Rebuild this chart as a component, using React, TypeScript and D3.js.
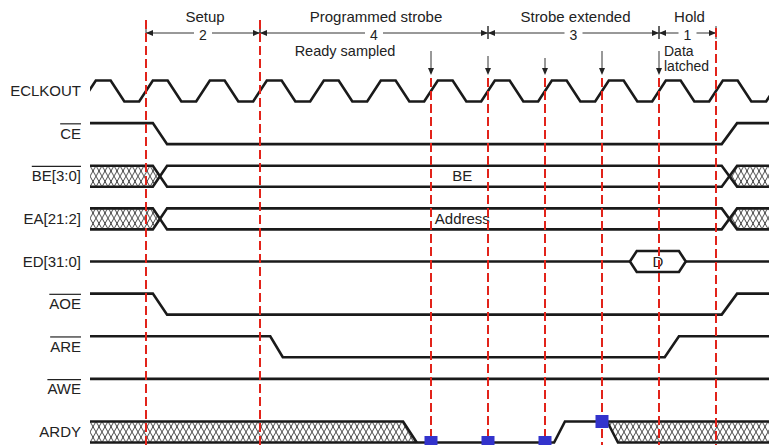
import React, { useRef, useEffect } from 'react';
import * as d3 from 'd3';

// signal rows, top to bottom
const signalNames = ["ECLKOUT", "CE", "BE[3:0]", "EA[21:2]", "ED[31:0]", "AOE", "ARE", "AWE", "ARDY"];
const activeLow = [false, true, true, false, false, true, true, true, false];

// clock cycles (rising edge at each index)
const clockCycles = [-1, 0, 1, 2, 3, 4, 5, 6, 7, 8, 9, 10, 11];

// phases of the access
const phaseNames = ["Setup", "Programmed strobe", "Strobe extended", "Hold"];
const phaseCounts = [2, 4, 3, 1];
const phaseStarts = [0, 2, 6, 9];

// red dashed reference edges
const markerCycles = [0, 2, 5, 6, 7, 8, 9, 10];
// edges where a down arrow shows sampling
const sampleCycles = [5, 6, 7, 8, 9];

// waveforms, in cycles: [cycle, level] with 1 = high, 0 = low
const ceWave = [[-1.2, 1], [0.12, 1], [0.37, 0], [10.1, 0], [10.37, 1], [11.5, 1]];
const aoeWave = [[-1.2, 1], [0.12, 1], [0.37, 0], [10.1, 0], [10.37, 1], [11.5, 1]];
const areWave = [[-1.2, 1], [2.18, 1], [2.4, 0], [9.1, 0], [9.35, 1], [11.5, 1]];
const aweWave = [[-1.2, 1], [11.5, 1]];
// bus valid window: start crossing, end crossing
const busEdges = [0.12, 0.37, 10.1, 10.37];
const busTexts = ["BE", "Address"];
const busTextCycle = 5.55;
// ED data window
const dataEdges = [8.49, 8.61, 9.35, 9.47];
const dataText = "D";
// ARDY: leaves unknown, low, rises, high, back to unknown
const ardyEdges = [4.51, 4.75, 7.16, 7.35, 8.09, 8.28];
// ARDY sample points and level seen
const readyCycles = [5, 6, 7, 8];
const readyLevels = [0, 0, 0, 1];

const W = 769, H = 445;
const FONT = "'Liberation Sans', Arial, sans-serif";

const App: React.FC = () => {
  const svgRef = useRef<SVGSVGElement>(null);

  useEffect(() => {
    if (!svgRef.current) return;
    const svg = d3.select(svgRef.current);
    svg.selectAll("*").remove();

    const x = d3.scaleLinear().domain([0, 10]).range([146, 716]);
    const row = d3.scaleLinear().domain([0, 8]).range([91, 432]);
    const half = 10.5;
    const x0 = 90, xEnd = W;
    const lvl = (r: number, l: number) => row(r) + (l === 1 ? -half : l === 0 ? half : 0);
    const ink = "#1a1a1a";
    const line = d3.line<[number, number]>();

    const defs = svg.append("defs");
    const pat = defs.append("pattern").attr("id", "hatch")
      .attr("patternUnits", "userSpaceOnUse")
      .attr("width", 6).attr("height", 10.5).attr("y", row(2) - half);
    pat.append("path").attr("d", "M0,0L6,10.5M6,0L0,10.5")
      .attr("stroke", ink).attr("stroke-width", 0.8).attr("fill", "none");
    defs.append("clipPath").attr("id", "clk")
      .append("rect").attr("x", x0).attr("y", 0).attr("width", xEnd - x0).attr("height", H);

    const sig = svg.append("g");
    const stroke = (p: any) => p.attr("fill", "none").attr("stroke", ink)
      .attr("stroke-width", 2.6).attr("stroke-linejoin", "miter");

    // labels
    signalNames.forEach((name, i) => {
      const t = svg.append("text").attr("x", 81).attr("y", row(i) + 5)
        .attr("text-anchor", "end").attr("font-family", FONT).attr("font-size", 15)
        .attr("fill", "#222").text(name);
      if (activeLow[i]) {
        const bb = (t.node() as SVGTextElement).getBBox();
        svg.append("line").attr("x1", bb.x).attr("x2", bb.x + bb.width)
          .attr("y1", row(i) - 9.8).attr("y2", row(i) - 9.8)
          .attr("stroke", "#222").attr("stroke-width", 1.2);
      }
    });

    // clock
    const clkPts: [number, number][] = [];
    clockCycles.forEach(k => {
      clkPts.push([x(k - 0.12), lvl(0, 0)], [x(k + 0.12), lvl(0, 1)],
        [x(k + 0.38), lvl(0, 1)], [x(k + 0.62), lvl(0, 0)]);
    });
    sig.append("path").attr("d", line(clkPts)).attr("clip-path", "url(#clk)").call(stroke);

    // simple level signals
    const waves: [number, number[][]][] = [[1, ceWave], [5, aoeWave], [6, areWave], [7, aweWave]];
    const clipG = sig.append("g").attr("clip-path", "url(#clk)");
    waves.forEach(([r, w]) => {
      clipG.append("path").attr("d", line(w.map(p => [x(p[0]), lvl(r, p[1])] as [number, number]))).call(stroke);
    });

    // buses
    [2, 3].forEach((r, i) => {
      const top = lvl(r, 1), bot = lvl(r, 0), c = row(r);
      const [a1, a2, b1, b2] = busEdges.map(x);
      const am = (a1 + a2) / 2, bm = (b1 + b2) / 2;
      sig.append("path").attr("d", line([[x0, top], [a1, top], [am, c], [a1, bot], [x0, bot]]) + "Z")
        .attr("fill", "url(#hatch)");
      sig.append("path").attr("d", line([[bm, c], [b2, top], [xEnd, top], [xEnd, bot], [b2, bot]]) + "Z")
        .attr("fill", "url(#hatch)");
      sig.append("path").attr("d", line([[x0, top], [a1, top], [a2, bot], [b1, bot], [b2, top], [xEnd, top]])).call(stroke);
      sig.append("path").attr("d", line([[x0, bot], [a1, bot], [a2, top], [b1, top], [b2, bot], [xEnd, bot]])).call(stroke);
      sig.append("text").attr("x", x(busTextCycle)).attr("y", c + 5).attr("text-anchor", "middle")
        .attr("font-family", FONT).attr("font-size", 15).attr("fill", "#222").text(busTexts[i]);
    });

    // data bus ED
    {
      const r = 4, c = row(r), top = lvl(r, 1), bot = lvl(r, 0);
      const [h0, h1, h2, h3] = dataEdges.map(x);
      sig.append("path").attr("d", line([[x0, c], [h0, c]])).call(stroke);
      sig.append("path").attr("d", line([[h0, c], [h1, top], [h2, top], [h3, c], [h2, bot], [h1, bot]]) + "Z")
        .call(stroke).attr("fill", "#fff");
      sig.append("path").attr("d", line([[h3, c], [xEnd, c]])).call(stroke);
      sig.append("text").attr("x", (h1 + h2) / 2).attr("y", c + 5.5).attr("text-anchor", "middle")
        .attr("font-family", FONT).attr("font-size", 15).attr("fill", "#222").text(dataText);
    }

    // ARDY
    {
      const r = 8, top = lvl(r, 1), bot = lvl(r, 0);
      const [e0, e1, e2, e3, e4, e5] = ardyEdges.map(x);
      const patA = defs.append("pattern").attr("id", "hatch2")
        .attr("patternUnits", "userSpaceOnUse")
        .attr("width", 6).attr("height", 10.5).attr("y", top);
      patA.append("path").attr("d", "M0,0L6,10.5M6,0L0,10.5")
        .attr("stroke", ink).attr("stroke-width", 0.8).attr("fill", "none");
      sig.append("path").attr("d", line([[x0, top], [e0, top], [e1, bot], [x0, bot]]) + "Z").attr("fill", "url(#hatch2)");
      sig.append("path").attr("d", line([[e4, top], [xEnd, top], [xEnd, bot], [e5, bot]]) + "Z").attr("fill", "url(#hatch2)");
      sig.append("path").attr("d", line([[x0, top], [e0, top], [e1, bot]])).call(stroke);
      sig.append("path").attr("d", line([[x0, bot], [e2, bot], [e3, top], [xEnd, top]])).call(stroke);
      sig.append("path").attr("d", line([[e4, top], [e5, bot], [xEnd, bot]])).call(stroke);
    }

    // phase dimension lines
    const dimY = 33;
    const dim = svg.append("g").attr("stroke", "#333").attr("fill", "#222");
    phaseNames.forEach((name, i) => {
      const a = x(phaseStarts[i]), b = x(phaseStarts[i] + phaseCounts[i]);
      const m = (a + b) / 2;
      const gap = 9;
      dim.append("line").attr("x1", a).attr("x2", m - gap).attr("y1", dimY).attr("y2", dimY).attr("stroke-width", 1);
      dim.append("line").attr("x1", m + gap).attr("x2", b).attr("y1", dimY).attr("y2", dimY).attr("stroke-width", 1);
      dim.append("path").attr("d", `M${a},${dimY}L${a + 7},${dimY - 3}L${a + 7},${dimY + 3}Z`).attr("stroke", "none");
      dim.append("path").attr("d", `M${b},${dimY}L${b - 7},${dimY - 3}L${b - 7},${dimY + 3}Z`).attr("stroke", "none");
      [a, b].forEach(px => dim.append("line").attr("x1", px).attr("x2", px)
        .attr("y1", dimY - 7).attr("y2", dimY + 6).attr("stroke-width", 1));
      svg.append("text").attr("x", m + 2).attr("y", 22).attr("text-anchor", "middle")
        .attr("font-family", FONT).attr("font-size", 15).attr("fill", "#222").text(name);
      svg.append("text").attr("x", m).attr("y", 39.5).attr("text-anchor", "middle")
        .attr("font-family", FONT).attr("font-size", 14).attr("fill", "#222").text(String(phaseCounts[i]));
    });

    // sampling arrows
    sampleCycles.forEach(c => {
      const px = x(c);
      const top = c === 6 ? 56 : c === 7 ? 58 : 51;
      dim.append("line").attr("x1", px).attr("x2", px).attr("y1", top).attr("y2", 70).attr("stroke-width", 1);
      dim.append("path").attr("d", `M${px - 3},${68}L${px + 3},${68}L${px},${75}Z`).attr("stroke", "none");
    });
    svg.append("text").attr("x", 345).attr("y", 55.5).attr("text-anchor", "middle")
      .attr("font-family", FONT).attr("font-size", 14.5).attr("fill", "#222").text("Ready sampled");
    const dl = svg.append("text").attr("font-family", FONT).attr("font-size", 14).attr("fill", "#222");
    dl.append("tspan").attr("x", x(9) + 5).attr("y", 56).text("Data");
    dl.append("tspan").attr("x", x(9) + 5).attr("y", 71).text("latched");

    // red dashed reference lines
    markerCycles.forEach(c => {
      const top = sampleCycles.includes(c) ? 78 : c === 10 ? 28 : 20;
      svg.append("line").attr("x1", x(c)).attr("x2", x(c)).attr("y1", top).attr("y2", H)
        .attr("stroke", "#e2231a").attr("stroke-width", 2).attr("stroke-dasharray", "9,4");
    });

    // ARDY sample squares
    readyCycles.forEach((c, i) => {
      const cy = lvl(8, readyLevels[i]);
      svg.append("rect").attr("x", x(c) - 6.5).attr("y", cy - 6.5).attr("width", 13).attr("height", 13)
        .attr("fill", "#3333cc");
    });
  }, []);

  return (
    <svg ref={svgRef} width={W} height={H}
      style={{ position: 'absolute', left: 0, top: 0, background: '#fff' }} />
  );
};

export default App;
